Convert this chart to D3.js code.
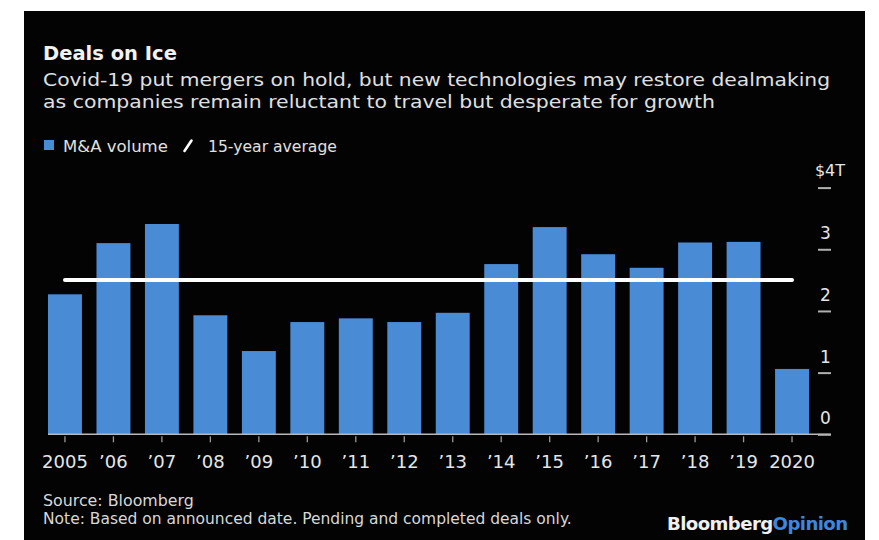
<!DOCTYPE html>
<html>
<head>
<meta charset="utf-8">
<script src="https://cdn.jsdelivr.net/npm/d3@7"></script>
<style>
  body { margin: 0; background: #fff; }
  text { font-family: "DejaVu Sans", sans-serif; }
</style>
</head>
<body>
<div id="chart"></div>
<script>
// Data
const years = ["2005", "’06", "’07", "’08", "’09", "’10", "’11", "’12", "’13", "’14", "’15", "’16", "’17", "’18", "’19", "2020"];
const volume = [2.27, 3.10, 3.41, 1.93, 1.35, 1.82, 1.88, 1.82, 1.97, 2.76, 3.36, 2.92, 2.70, 3.11, 3.12, 1.06];
const average = 2.5;
const yTicks = [0, 1, 2, 3, 4];
const yTickLabels = ["0", "1", "2", "3", "$4T"];

const W = 879, H = 540;
const blue = "#4a8bd6";

// stretch/shrink a text's font size so its width matches the picture
function fitWidth(sel, w) {
  const cur = sel.node().getComputedTextLength();
  const fs = parseFloat(sel.attr("font-size"));
  sel.attr("font-size", (fs * w) / cur);
  return sel;
}

const svg = d3.select("#chart").append("svg").attr("width", W).attr("height", H);

// black panel
svg.append("rect").attr("x", 24).attr("y", 11).attr("width", 841).attr("height", H - 11).attr("fill", "#030303");

// header
fitWidth(
  svg.append("text").attr("x", 43).attr("y", 59.5).attr("font-size", 20).attr("font-weight", "bold")
    .attr("fill", "#f2f2f2").text("Deals on Ice"),
  134
);
// subtitle: keep the font a bit smaller and stretch to the reference widths
svg.append("text").attr("x", 43).attr("y", 86).attr("font-size", 18).attr("fill", "#e0e0e0")
  .attr("textLength", 787).attr("lengthAdjust", "spacingAndGlyphs")
  .text("Covid-19 put mergers on hold, but new technologies may restore dealmaking");
svg.append("text").attr("x", 43).attr("y", 107.5).attr("font-size", 18).attr("fill", "#e0e0e0")
  .attr("textLength", 672).attr("lengthAdjust", "spacingAndGlyphs")
  .text("as companies remain reluctant to travel but desperate for growth");

// legend
svg.append("rect").attr("x", 44).attr("y", 140).attr("width", 10).attr("height", 10).attr("fill", blue);
fitWidth(
  svg.append("text").attr("x", 63).attr("y", 151.5).attr("font-size", 16).attr("fill", "#e0e0e0").text("M&A volume"),
  105
);
svg.append("line").attr("x1", 184.5).attr("y1", 151).attr("x2", 191.5).attr("y2", 140.5)
  .attr("stroke", "#fff").attr("stroke-width", 2.6).attr("stroke-linecap", "round");
fitWidth(
  svg.append("text").attr("x", 208).attr("y", 151.5).attr("font-size", 16).attr("fill", "#e0e0e0").text("15-year average"),
  129
);

// scales
const x = d3.scaleBand().domain(years).range([48, 809]).paddingInner(0.3).paddingOuter(0);
const y = d3.scaleLinear().domain([0, 4]).range([434.3, 187.6]);

// bars
svg.append("g")
  .selectAll("rect")
  .data(volume)
  .join("rect")
  .attr("x", (d, i) => x(years[i]))
  .attr("y", (d) => y(d))
  .attr("width", x.bandwidth())
  .attr("height", (d) => y(0) - y(d))
  .attr("fill", blue);

// 15-year average line, from first bar centre to last bar centre
const half = x.bandwidth() / 2;
svg.append("line")
  .attr("x1", x(years[0]) + half)
  .attr("x2", x(years[years.length - 1]) + half)
  .attr("y1", y(average))
  .attr("y2", y(average))
  .attr("stroke", "#fff")
  .attr("stroke-width", 4)
  .attr("stroke-linecap", "round");

// x axis
const xAxis = svg.append("g")
  .attr("transform", `translate(0,${y(0)})`)
  .call(d3.axisBottom(x).tickSize(8).tickPadding(10).tickSizeOuter(0));
xAxis.select(".domain").remove();
xAxis.selectAll(".tick line").attr("stroke", "#9a9a9a").attr("stroke-width", 1.3).attr("y1", 2);
xAxis.selectAll(".tick text")
  .attr("font-size", 18)
  .attr("fill", "#e6e6e6")
  .attr("font-family", "DejaVu Sans, sans-serif")
  .attr("dy", null)
  .attr("y", 33.4);

// y axis on the right, label above each dash
const yAxis = svg.append("g")
  .attr("transform", "translate(818,0)")
  .call(d3.axisRight(y).tickValues(yTicks).tickSize(13).tickFormat((d, i) => yTickLabels[i]));
yAxis.select(".domain").remove();
yAxis.selectAll(".tick line").attr("stroke", "#b0b0b0").attr("stroke-width", 2);
yAxis.selectAll(".tick text")
  .attr("x", (d) => (d === 4 ? 12 : 7.5))
  .attr("dy", null)
  .attr("y", (d) => (d === 4 ? -12.5 : -10.5))
  .attr("text-anchor", "middle")
  .attr("font-size", (d) => (d === 4 ? 16 : 17))
  .attr("font-family", "DejaVu Sans, sans-serif")
  .attr("fill", "#e6e6e6");

// baseline
svg.append("line")
  .attr("x1", x.range()[0]).attr("x2", 831)
  .attr("y1", y(0)).attr("y2", y(0))
  .attr("stroke", "#b8b8b8").attr("stroke-width", 1.5);

// footer
fitWidth(
  svg.append("text").attr("x", 43).attr("y", 506).attr("font-size", 15).attr("fill", "#d8d8d8").text("Source: Bloomberg"),
  151
);
fitWidth(
  svg.append("text").attr("x", 43).attr("y", 524).attr("font-size", 15).attr("fill", "#d8d8d8")
    .text("Note: Based on announced date. Pending and completed deals only."),
  529
);
const brand = svg.append("text").attr("x", 667).attr("y", 530).attr("font-size", 17).attr("font-weight", "bold")
  .attr("letter-spacing", -0.6);
brand.append("tspan").attr("fill", "#f0f0f0").text("Bloomberg");
brand.append("tspan").attr("fill", "#3d87e0").text("Opinion");
fitWidth(brand, 180);
</script>
</body>
</html>
